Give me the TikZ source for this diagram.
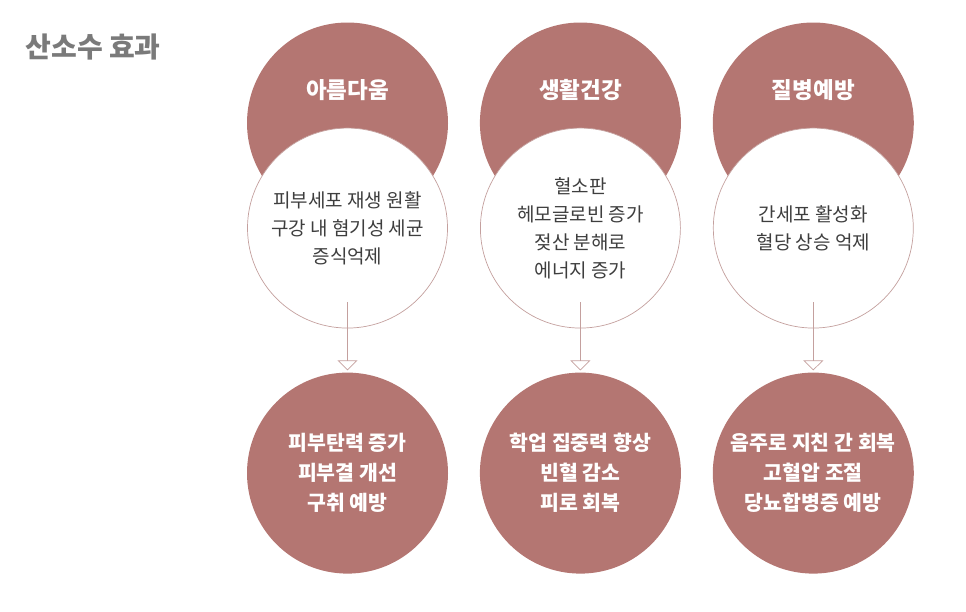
\documentclass[tikz,border=0pt]{standalone}
\usepackage{fontspec}
\setmainfont{Noto Sans CJK KR}
\usetikzlibrary{arrows.meta, positioning, calc}
\definecolor{rosebrown}{HTML}{B47672}
\definecolor{roseline}{HTML}{C4A09E}
\definecolor{titlegray}{HTML}{7A7A7A}
\definecolor{bodygray}{HTML}{3E3E3E}

\begin{document}
\begin{tikzpicture}[x=1pt, y=-1pt, node distance=31.5pt and 31.5pt]
  % Define styles
  \tikzstyle{headcircle} = [circle, minimum size=201pt, inner sep=0pt, fill=rosebrown]
  \tikzstyle{headtext} = [text=white, font=\fontsize{22.5}{26}\selectfont\bfseries]
  \tikzstyle{causecircle} = [circle, minimum size=200pt, inner sep=0pt, draw=roseline, line width=0.7pt, fill=white, text=bodygray, align=center, font=\fontsize{19}{28}\selectfont]
  \tikzstyle{resultcircle} = [circle, minimum size=201pt, inner sep=0pt, fill=rosebrown, text=white, align=center, font=\fontsize{20.5}{30}\selectfont\bfseries]
  \tikzstyle{line} = [draw=roseline, line width=0.7pt, -{Triangle[open, width=20pt, length=10pt]}, shorten <=74pt, shorten >=2pt]

  \useasboundingbox (0,0) rectangle (966,611);

  % Title
  \node [text=titlegray, font=\fontsize{28}{30}\selectfont\bfseries, anchor=west] (title) at (22,47) {산소수 효과};

  % Place nodes
  \node [headcircle, label={[headtext, yshift=33pt]center:아름다움}] (beauty) at (347.5,123) {};
  \node [headcircle, right=of beauty, label={[headtext, yshift=33pt]center:생활건강}] (life) {};
  \node [headcircle, right=of life, label={[headtext, yshift=33pt]center:질병예방}] (disease) {};

  \node [causecircle, below=-96pt of beauty] (beautycause) {피부세포 재생 원활\\구강 내 혐기성 세균\\증식억제};
  \node [causecircle, below=-96pt of life] (lifecause) {혈소판\\헤모글로빈 증가\\젖산 분해로\\에너지 증가};
  \node [causecircle, below=-96pt of disease] (diseasecause) {간세포 활성화\\혈당 상승 억제};

  \node [resultcircle, below=44pt of beautycause] (beautyresult) {피부탄력 증가\\피부결 개선\\구취 예방};
  \node [resultcircle, below=44pt of lifecause] (liferesult) {학업 집중력 향상\\빈혈 감소\\피로 회복};
  \node [resultcircle, below=44pt of diseasecause] (diseaseresult) {음주로 지친 간 회복\\고혈압 조절\\당뇨합병증 예방};

  % Draw edges
  \path [line] (beautycause.center) -- (beautyresult.north);
  \path [line] (lifecause.center) -- (liferesult.north);
  \path [line] (diseasecause.center) -- (diseaseresult.north);
\end{tikzpicture}
\end{document}
